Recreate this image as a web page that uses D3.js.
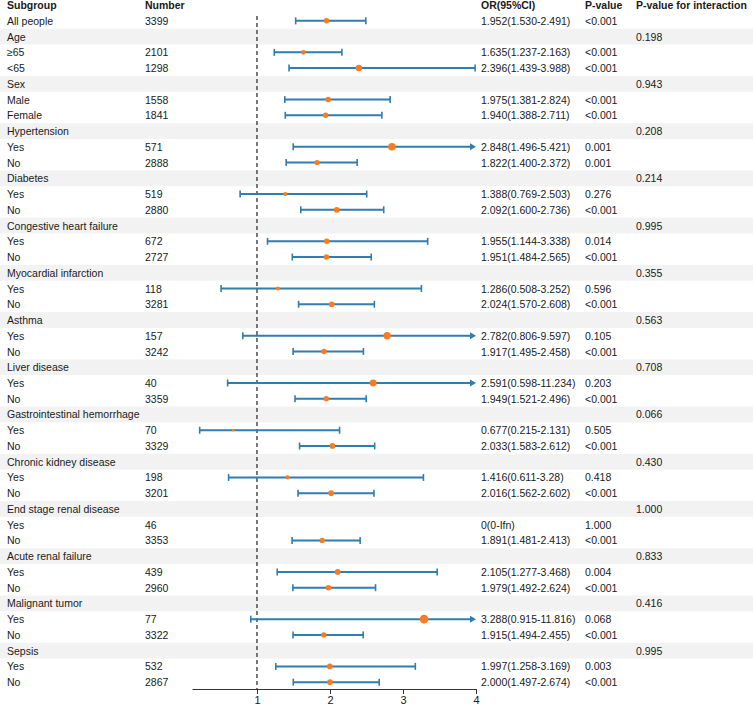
<!DOCTYPE html>
<html>
<head>
<meta charset="utf-8">
<script src="https://cdn.jsdelivr.net/npm/d3@7"></script>
<style>
  body { margin: 0; background: #fff; }
  svg text { font-family: "Liberation Sans", Arial, sans-serif; font-size: 10.5px; fill: #1a1a1a; }
  .head { font-weight: bold; }
</style>
</head>
<body>
<div id="chart"></div>
<script>
// rows of the table, top to bottom (group rows have no count)
const subgroups = ["All people","Age","≥65","<65","Sex","Male","Female","Hypertension","Yes","No",
  "Diabetes","Yes","No","Congestive heart failure","Yes","No","Myocardial infarction","Yes","No",
  "Asthma","Yes","No","Liver disease","Yes","No","Gastrointestinal hemorrhage","Yes","No",
  "Chronic kidney disease","Yes","No","End stage renal disease","Yes","No","Acute renal failure","Yes","No",
  "Malignant tumor","Yes","No","Sepsis","Yes","No"];
const counts = ["3399","","2101","1298","","1558","1841","","571","2888",
  "","519","2880","","672","2727","","118","3281",
  "","157","3242","","40","3359","","70","3329",
  "","198","3201","","46","3353","","439","2960",
  "","77","3322","","532","2867"];
const orEst = [1.952,null,1.635,2.396,null,1.975,1.940,null,2.848,1.822,
  null,1.388,2.092,null,1.955,1.951,null,1.286,2.024,
  null,2.782,1.917,null,2.591,1.949,null,0.677,2.033,
  null,1.416,2.016,null,null,1.891,null,2.105,1.979,
  null,3.288,1.915,null,1.997,2.000];
const orLow = [1.530,null,1.237,1.439,null,1.381,1.388,null,1.496,1.400,
  null,0.769,1.600,null,1.144,1.484,null,0.508,1.570,
  null,0.806,1.495,null,0.598,1.521,null,0.215,1.583,
  null,0.611,1.562,null,null,1.481,null,1.277,1.492,
  null,0.915,1.494,null,1.258,1.497];
const orHigh = [2.491,null,2.163,3.988,null,2.824,2.711,null,5.421,2.372,
  null,2.503,2.736,null,3.338,2.565,null,3.252,2.608,
  null,9.597,2.458,null,11.234,2.496,null,2.131,2.612,
  null,3.28,2.602,null,null,2.413,null,3.468,2.624,
  null,11.816,2.455,null,3.169,2.674];
const orLabels = ["1.952(1.530-2.491)","","1.635(1.237-2.163)","2.396(1.439-3.988)","","1.975(1.381-2.824)","1.940(1.388-2.711)","","2.848(1.496-5.421)","1.822(1.400-2.372)",
  "","1.388(0.769-2.503)","2.092(1.600-2.736)","","1.955(1.144-3.338)","1.951(1.484-2.565)","","1.286(0.508-3.252)","2.024(1.570-2.608)",
  "","2.782(0.806-9.597)","1.917(1.495-2.458)","","2.591(0.598-11.234)","1.949(1.521-2.496)","","0.677(0.215-2.131)","2.033(1.583-2.612)",
  "","1.416(0.611-3.28)","2.016(1.562-2.602)","","0(0-Ifn)","1.891(1.481-2.413)","","2.105(1.277-3.468)","1.979(1.492-2.624)",
  "","3.288(0.915-11.816)","1.915(1.494-2.455)","","1.997(1.258-3.169)","2.000(1.497-2.674)"];
const pValues = ["<0.001","","<0.001","<0.001","","<0.001","<0.001","","0.001","0.001",
  "","0.276","<0.001","","0.014","<0.001","","0.596","<0.001",
  "","0.105","<0.001","","0.203","<0.001","","0.505","<0.001",
  "","0.418","<0.001","","1.000","<0.001","","0.004","<0.001",
  "","0.068","<0.001","","0.003","<0.001"];
const pInteraction = ["","0.198","","","0.943","","","0.208","","",
  "0.214","","","0.995","","","0.355","","",
  "0.563","","","0.708","","","0.066","","",
  "0.430","","","1.000","","","0.833","","",
  "0.416","","","0.995","",""];
const headers = ["Subgroup","Number","OR(95%CI)","P-value","P-value for interaction"];
const xTicks = [1, 2, 3, 4];

const width = 753, height = 708;
const blue = "#2f7db1", orange = "#f97b22";
const colX = [7, 145, 481, 585, 636];

const svg = d3.select("#chart").append("svg")
  .attr("width", width).attr("height", height);

const rows = subgroups.map((s, i) => ({
  i, label: s, n: counts[i], est: orEst[i], lo: orLow[i], hi: orHigh[i],
  orText: orLabels[i], p: pValues[i], pint: pInteraction[i], group: i > 0 && counts[i] === ""
}));

const y = d3.scaleBand().domain(rows.map(d => d.i)).range([13, 690]).padding(0);
const x = d3.scaleLinear().domain([0.11, 4]).range([192, 476]);
const yc = i => y(i) + y.bandwidth() / 2;

// grey bands behind group rows
svg.selectAll("rect.band")
  .data(rows.filter(d => d.group))
  .join("rect")
  .attr("class", "band")
  .attr("x", 0).attr("width", width)
  .attr("y", d => y(d.i)).attr("height", y.bandwidth())
  .attr("fill", "#f2f2f2");

// header
svg.selectAll("text.head")
  .data(headers)
  .join("text")
  .attr("class", "head")
  .attr("x", (d, i) => colX[i]).attr("y", 9)
  .text(d => d);

// table text
const cols = [d => d.label, d => d.n, d => d.orText, d => d.p, d => d.pint];
cols.forEach((f, k) => {
  svg.append("g").selectAll("text")
    .data(rows)
    .join("text")
    .attr("x", colX[k])
    .attr("y", d => yc(d.i) + 4)
    .text(f);
});

// reference line at OR = 1
svg.append("line")
  .attr("x1", x(1)).attr("x2", x(1))
  .attr("y1", 16).attr("y2", 689)
  .attr("stroke", "#333").attr("stroke-width", 1.3)
  .attr("stroke-dasharray", "4,3");

// axis
const axis = svg.append("g")
  .attr("transform", "translate(0,689)")
  .call(d3.axisBottom(x).tickValues(xTicks).tickFormat(d3.format("d"))
    .tickSize(5).tickSizeOuter(0).tickPadding(2));
axis.select(".domain").attr("stroke", "#333");
axis.selectAll(".tick line").attr("stroke", "#333");
axis.selectAll(".tick text").style("font-size", "11px").attr("fill", "#1a1a1a");

// confidence intervals
const ci = rows.filter(d => d.est != null);
const xMax = x.domain()[1];
const g = svg.append("g");
g.selectAll("line.ci")
  .data(ci)
  .join("line")
  .attr("x1", d => x(d.lo))
  .attr("x2", d => d.hi > xMax ? x(xMax) - 4 : x(d.hi))
  .attr("y1", d => yc(d.i)).attr("y2", d => yc(d.i))
  .attr("stroke", blue).attr("stroke-width", 2);

// caps
g.selectAll("line.lcap")
  .data(ci)
  .join("line")
  .attr("x1", d => x(d.lo)).attr("x2", d => x(d.lo))
  .attr("y1", d => yc(d.i) - 3.5).attr("y2", d => yc(d.i) + 3.5)
  .attr("stroke", blue).attr("stroke-width", 1.6);
g.selectAll("line.rcap")
  .data(ci.filter(d => d.hi <= xMax))
  .join("line")
  .attr("x1", d => x(d.hi)).attr("x2", d => x(d.hi))
  .attr("y1", d => yc(d.i) - 3.5).attr("y2", d => yc(d.i) + 3.5)
  .attr("stroke", blue).attr("stroke-width", 1.6);

// arrows where upper limit runs off the axis
g.selectAll("path.arrow")
  .data(ci.filter(d => d.hi > xMax))
  .join("path")
  .attr("d", d => {
    const ax = x(xMax), ay = yc(d.i);
    return `M${ax},${ay} L${ax - 6},${ay - 3.5} L${ax - 6},${ay + 3.5} Z`;
  })
  .attr("fill", blue);

// point estimates, sized by OR
const r = d3.scaleLinear().domain([0.6, 3.3]).range([1.2, 4.3]);
g.selectAll("circle")
  .data(ci)
  .join("circle")
  .attr("cx", d => x(d.est)).attr("cy", d => yc(d.i))
  .attr("r", d => r(d.est))
  .attr("fill", orange);
</script>
</body>
</html>
